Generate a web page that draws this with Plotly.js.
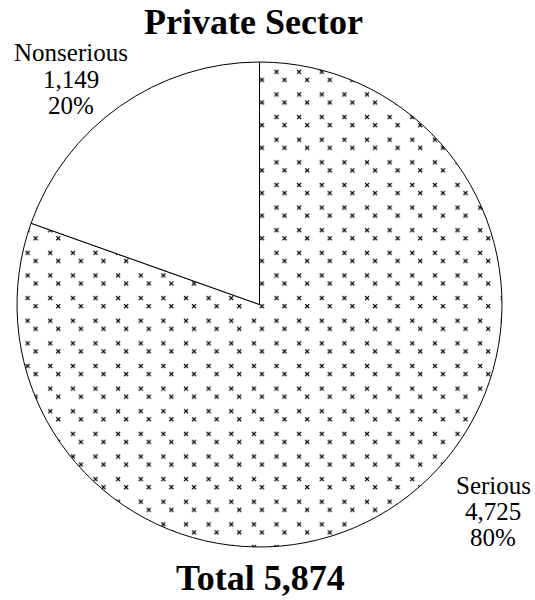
<!DOCTYPE html>
<html>
<head>
<meta charset="utf-8">
<script src="https://cdn.plot.ly/plotly-3.0.1.min.js"></script>
<style>html,body{margin:0;padding:0;background:#fff;}#chart{width:535px;height:600px;}</style>
</head>
<body>
<div id="chart"></div>
<script>
const chartTitle = "Private Sector";
const categories = ["Serious", "Nonserious"];
const values = [4725, 1149];
const patterns = ["x", ""];

const total = values.reduce((a, b) => a + b, 0);
const fmt = v => v.toLocaleString("en-US");
const pct = values.map(v => Math.round(100 * v / total) + "%");

const FONT = "Liberation Serif, Times New Roman, serif";

const trace = {
  type: "pie",
  values: values,
  labels: categories,
  sort: false,
  direction: "clockwise",
  rotation: 0,
  textinfo: "none",
  hoverinfo: "none",
  showlegend: false,
  domain: {x: [0.0318, 0.9383], y: [0.0883, 0.8967]},
  marker: {
    colors: ["#ffffff", "#ffffff"],
    line: {color: "#000000", width: 1},
    pattern: {shape: patterns, fgcolor: "#000000", bgcolor: "#ffffff", size: 16, solidity: 0.1, fillmode: "replace"}
  }
};

// label blocks (one annotation per line)
const labelPos = [
  {x: 493, y: [485, 511, 537]},   // Serious
  {x: 71,  y: [52, 80, 105]}      // Nonserious
];
const annotations = [];
categories.forEach((c, i) => {
  const lines = [c, fmt(values[i]), pct[i]];
  lines.forEach((t, j) => {
    annotations.push({
      text: t, xref: "paper", yref: "paper",
      x: labelPos[i].x / 535, y: 1 - labelPos[i].y[j] / 600,
      xanchor: "center", yanchor: "middle", showarrow: false,
      font: {family: FONT, size: 25, color: "#000"}
    });
  });
});
annotations.push({
  text: "<b>" + chartTitle + "</b>", xref: "paper", yref: "paper",
  x: 253 / 535, y: 1 - 22 / 600, xanchor: "center", yanchor: "middle", showarrow: false,
  font: {family: FONT, size: 36, color: "#000"}
});
annotations.push({
  text: "<b>Total " + fmt(total) + "</b>", xref: "paper", yref: "paper",
  x: 260 / 535, y: 1 - 578 / 600, xanchor: "center", yanchor: "middle", showarrow: false,
  font: {family: FONT, size: 36, color: "#000"}
});

const layout = {
  width: 535, height: 600,
  margin: {l: 0, r: 0, t: 0, b: 0},
  paper_bgcolor: "#ffffff",
  plot_bgcolor: "#ffffff",
  annotations: annotations
};

function fixPattern() {
  document.querySelectorAll("pattern").forEach(p => {
    const path = p.querySelector("path");
    if (!path) return;
    path.setAttribute("d", "M3,2L7,6M3,6L7,2M11,10L15,14M11,14L15,10");
    path.setAttribute("stroke-width", "1.2px");
    path.style.strokeWidth = "1.2px";
    path.style.strokeOpacity = "1";
    path.setAttribute("opacity", "1");
  });
}

const gd = document.getElementById("chart");
Plotly.newPlot(gd, [trace], layout, {staticPlot: true, displayModeBar: false}).then(() => {
  fixPattern();
  gd.on("plotly_afterplot", fixPattern);
});
</script>
</body>
</html>
